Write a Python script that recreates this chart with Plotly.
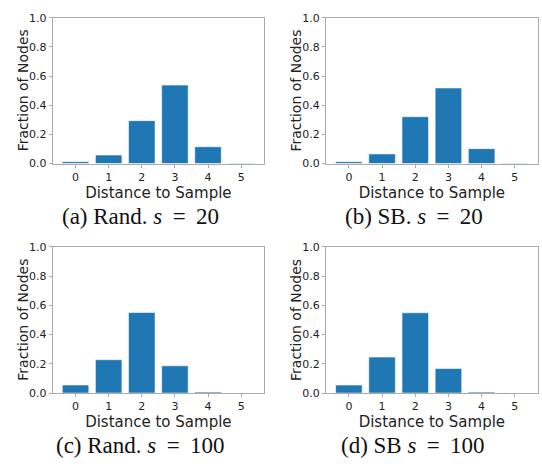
import plotly.graph_objects as go

distances = [0, 1, 2, 3, 4, 5]
rand_s20 = [0.013, 0.058, 0.294, 0.538, 0.115, 0.004]
sb_s20 = [0.013, 0.066, 0.321, 0.518, 0.102, 0.004]
rand_s100 = [0.055, 0.228, 0.551, 0.186, 0.007, 0.001]
sb_s100 = [0.055, 0.246, 0.549, 0.168, 0.007, 0.001]
eq = "\u00a0\u2009=\u2009\u00a0"
captions = ["(a) Rand. <i>s</i>" + eq + "20", "(b) SB. <i>s</i>" + eq + "20",
            "(c) Rand. <i>s</i>" + eq + "100", "(d) SB <i>s</i>" + eq + "100"]
series = [rand_s20, sb_s20, rand_s100, sb_s100]

W, H = 542, 473
# plot areas in pixels: (left, right, top, bottom)
boxes = [(52.7, 264, 12, 162), (326, 537.7, 12, 162),
         (52.7, 264, 247.7, 398), (326, 537.7, 247.7, 398)]
cap_pos = [(140, 216), (414, 216), (140, 452), (413, 452)]

fig = go.Figure()
layout = dict(width=W, height=H, margin=dict(l=0, r=0, t=0, b=0),
              plot_bgcolor="white", paper_bgcolor="white", showlegend=False,
              font=dict(family="DejaVu Sans", color="#222"))
annotations = []
spine = "#aaaaaa"
for i, (vals, box, cap, cp) in enumerate(zip(series, boxes, captions, cap_pos)):
    n = "" if i == 0 else str(i + 1)
    xa, ya = "x" + n, "y" + n
    fig.add_trace(go.Bar(x=distances, y=vals, width=0.8, xaxis=xa, yaxis=ya,
                         marker=dict(color="#1f77b4",
                                     line=dict(color="rgba(255,255,255,0.55)", width=1))))
    l, r, t, b = box
    layout["xaxis" + n] = dict(
        domain=[l / W, r / W], anchor=ya, range=[-0.69, 5.69],
        tickvals=distances, ticktext=[str(d) for d in distances],
        showgrid=False, zeroline=False, showline=True, linecolor=spine, linewidth=1,
        mirror=True, ticks="outside", ticklen=3, tickcolor=spine,
        tickfont=dict(size=11, color="#222"),
        title=dict(text="Distance to Sample", font=dict(size=15, color="#222"), standoff=2))
    layout["yaxis" + n] = dict(
        domain=[1 - b / H, 1 - t / H], anchor=xa, range=[0, 1.0],
        tickvals=[0, 0.2, 0.4, 0.6, 0.8, 1.0],
        ticktext=["0.0", "0.2", "0.4", "0.6", "0.8", "1.0"],
        showgrid=False, zeroline=False, showline=True, linecolor=spine, linewidth=1,
        mirror=True, ticks="outside", ticklen=3, tickcolor=spine,
        tickfont=dict(size=11, color="#222"))
    annotations.append(dict(text="Fraction of Nodes", textangle=-90,
                            x=(l - 30) / W, y=1 - ((t + b) / 2) / H,
                            xref="paper", yref="paper", showarrow=False,
                            xanchor="center", yanchor="middle",
                            font=dict(size=14, color="#222")))
    annotations.append(dict(text=cap, x=cp[0] / W, y=1 - cp[1] / H, xref="paper", yref="paper",
                            showarrow=False, xanchor="center", yanchor="middle",
                            font=dict(family="Liberation Serif", size=23, color="#111")))
layout["annotations"] = annotations
fig.update_layout(**layout)
fig.write_html("out.html")
